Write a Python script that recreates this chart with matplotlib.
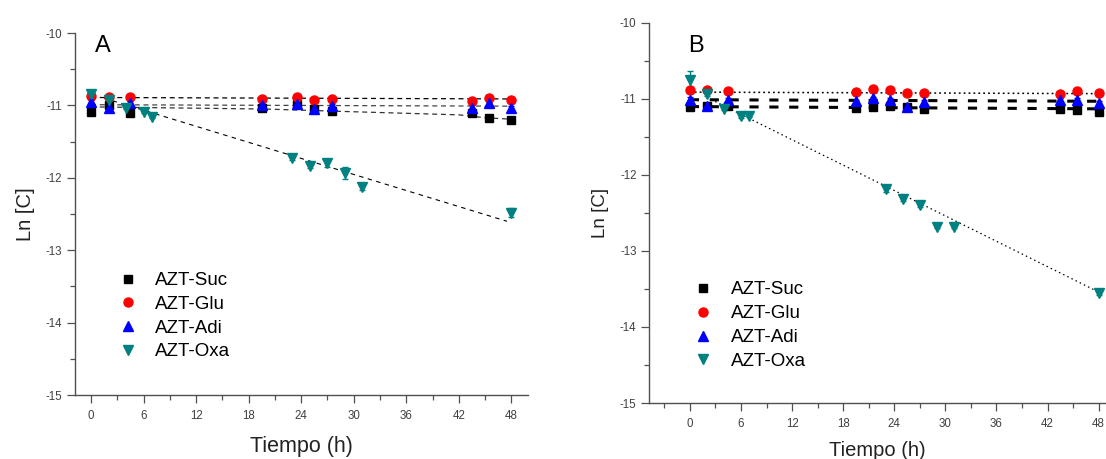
import matplotlib
matplotlib.use("Agg")
import matplotlib.pyplot as plt
from matplotlib.ticker import MultipleLocator

plt.rcParams['font.family'] = ['Liberation Sans', 'DejaVu Sans']
plt.rcParams['axes.unicode_minus'] = False

# ---- data ----
labels = ['AZT-Suc', 'AZT-Glu', 'AZT-Adi', 'AZT-Oxa']
colors = ['black', '#ff0000', '#0000ff', '#008080']
markers = ['s', 'o', '^', 'v']

t_A = [0, 2, 4.5, 19.5, 23.5, 25.5, 27.5, 43.5, 45.5, 48]
t_B = [0, 2, 4.5, 19.5, 21.5, 23.5, 25.5, 27.5, 43.5, 45.5, 48]
t_oxa = [0, 2, 4, 6, 7, 23, 25, 27, 29, 31, 48]

suc_A = [-11.09, -11.00, -11.11, -11.04, -10.98, -11.05, -11.08, -11.11, -11.18, -11.20]
glu_A = [-10.87, -10.88, -10.89, -10.91, -10.88, -10.93, -10.91, -10.94, -10.90, -10.93]
adi_A = [-10.95, -11.04, -10.96, -10.99, -10.98, -11.05, -11.01, -11.03, -10.97, -11.03]
oxa_A = [-10.84, -10.92, -11.03, -11.09, -11.16, -11.72, -11.83, -11.80, -11.93, -12.12, -12.48]
err_main_A = [0.03, 0.03, 0.02, 0.02, 0.03, 0.03, 0.03, 0.04, 0.02, 0.02]
err_oxa_A = [0.04, 0.03, 0.02, 0.02, 0.02, 0.03, 0.03, 0.05, 0.08, 0.05, 0.06]

suc_B = [-11.10, -11.09, -11.09, -11.12, -11.10, -11.09, -11.10, -11.13, -11.13, -11.15, -11.17]
glu_B = [-10.88, -10.88, -10.90, -10.91, -10.87, -10.88, -10.92, -10.92, -10.93, -10.90, -10.92]
adi_B = [-11.01, -11.09, -11.01, -11.03, -10.99, -11.01, -11.10, -11.04, -11.02, -11.01, -11.05]
oxa_B = [-10.75, -10.93, -11.13, -11.23, -11.22, -12.19, -12.32, -12.40, -12.68, -12.68, -13.55]
err_main_B = [0.03, 0.03, 0.02, 0.02, 0.02, 0.02, 0.03, 0.03, 0.03, 0.02, 0.02]
err_oxa_B = [0.12, 0.03, 0.02, 0.02, 0.02, 0.03, 0.02, 0.02, 0.02, 0.02, 0.03]

# trend lines (nodes)
fitA_suc_t = [0, 20, 28, 42, 45, 48]
fitA_suc_y = [-11.02, -11.05, -11.08, -11.13, -11.17, -11.19]
fitA_glu_t = [0, 48]
fitA_glu_y = [-10.89, -10.91]
fitA_adi_t = [0, 48]
fitA_adi_y = [-10.99, -11.01]
fitA_oxa_t = [1.5, 47.5]
fitA_oxa_y = [-10.90, -12.60]

fitB_suc_t = [0, 48]
fitB_suc_y = [-11.10, -11.13]
fitB_glu_t = [0, 48]
fitB_glu_y = [-10.91, -10.93]
fitB_adi_t = [0, 48]
fitB_adi_y = [-11.01, -11.03]
fitB_oxa_t = [2, 48]
fitB_oxa_y = [-10.98, -13.54]

fig = plt.figure(figsize=(11.06, 4.59), dpi=100)
axA = fig.add_axes([0.0678, 0.1394, 0.4096, 0.7886])
axB = fig.add_axes([0.5868, 0.122, 0.4123, 0.828])


def style(ax, xlim):
    ax.set_xlim(*xlim)
    ax.set_ylim(-15, -10)
    ax.xaxis.set_major_locator(MultipleLocator(6))
    ax.xaxis.set_minor_locator(MultipleLocator(3))
    ax.yaxis.set_major_locator(MultipleLocator(1))
    ax.yaxis.set_minor_locator(MultipleLocator(0.5))
    for s in ['top', 'right']:
        ax.spines[s].set_visible(False)
    for s in ['left', 'bottom']:
        ax.spines[s].set_color('#505050')
        ax.spines[s].set_linewidth(1.0)
    ax.tick_params(which='major', length=6, width=0.9, color='#505050',
                   labelsize=8.3, labelcolor='#404040')
    ax.tick_params(which='minor', length=3.5, width=0.9, color='#505050')
    ax.tick_params(axis='x', which='major', pad=5)
    ax.tick_params(axis='y', which='major', pad=3)


style(axA, (-1.83, 49.9))
style(axB, (-4.8, 48.75))

# panel A
dashA = (0, (4, 3))
axA.plot(fitA_glu_t, fitA_glu_y, color='black', lw=0.9, ls=dashA)
axA.plot(fitA_adi_t, fitA_adi_y, color='#444444', lw=0.9, ls=dashA)
axA.plot(fitA_suc_t, fitA_suc_y, color='#333333', lw=0.9, ls=dashA)
axA.plot(fitA_oxa_t, fitA_oxa_y, color='black', lw=0.8, ls=(0, (4, 4)))

sizes = [6, 6.5, 7, 7]
seriesA = [(t_A, suc_A, err_main_A), (t_A, glu_A, err_main_A),
           (t_A, adi_A, err_main_A), (t_oxa, oxa_A, err_oxa_A)]
hA = []
for (t, y, e), c, m, ms in zip(seriesA, colors, markers, sizes):
    cont = axA.errorbar(t, y, yerr=e, fmt=m, color=c, ms=ms, capsize=2.5,
                        elinewidth=1, capthick=1, linestyle='none')
    hA.append(cont[0])

# panel B
axB.plot(fitB_glu_t, fitB_glu_y, color='black', lw=1.1, ls=(0, (1.2, 2)))
axB.plot(fitB_adi_t, fitB_adi_y, color='black', lw=2.2, ls=(0, (3, 3.5)))
axB.plot(fitB_suc_t, fitB_suc_y, color='black', lw=2.2, ls=(0, (3, 3.5)))
axB.plot(fitB_oxa_t, fitB_oxa_y, color='black', lw=0.9, ls=(0, (1.2, 2.5)))

seriesB = [(t_B, suc_B, err_main_B), (t_B, glu_B, err_main_B),
           (t_B, adi_B, err_main_B), (t_oxa, oxa_B, err_oxa_B)]
hB = []
for (t, y, e), c, m, ms in zip(seriesB, colors, markers, sizes):
    cont = axB.errorbar(t, y, yerr=e, fmt=m, color=c, ms=ms, capsize=2.5,
                        elinewidth=1, capthick=1, linestyle='none')
    hB.append(cont[0])

axA.set_xlabel('Tiempo (h)', fontsize=15.5, color='#222222', labelpad=10)
axA.set_ylabel('Ln [C]', fontsize=14.5, color='#222222', labelpad=8)
axB.set_xlabel('Tiempo (h)', fontsize=14.5, color='#222222', labelpad=8)
axB.set_ylabel('Ln [C]', fontsize=13.5, color='#222222', labelpad=8)

axA.text(0.044, 0.948, 'A', transform=axA.transAxes, fontsize=17, va='baseline')
axB.text(0.0855, 0.924, 'B', transform=axB.transAxes, fontsize=17, va='baseline')

axA.legend(hA, labels, loc='upper left', bbox_to_anchor=(0.085, 0.36),
           frameon=False, fontsize=13.5, handlelength=0.8, handletextpad=1.0,
           labelspacing=0.35, borderaxespad=0)
axB.legend(hB, labels, loc='upper left', bbox_to_anchor=(0.085, 0.34),
           frameon=False, fontsize=13.5, handlelength=0.8, handletextpad=1.1,
           labelspacing=0.36, borderaxespad=0)

fig.savefig('out.png', dpi=100)
